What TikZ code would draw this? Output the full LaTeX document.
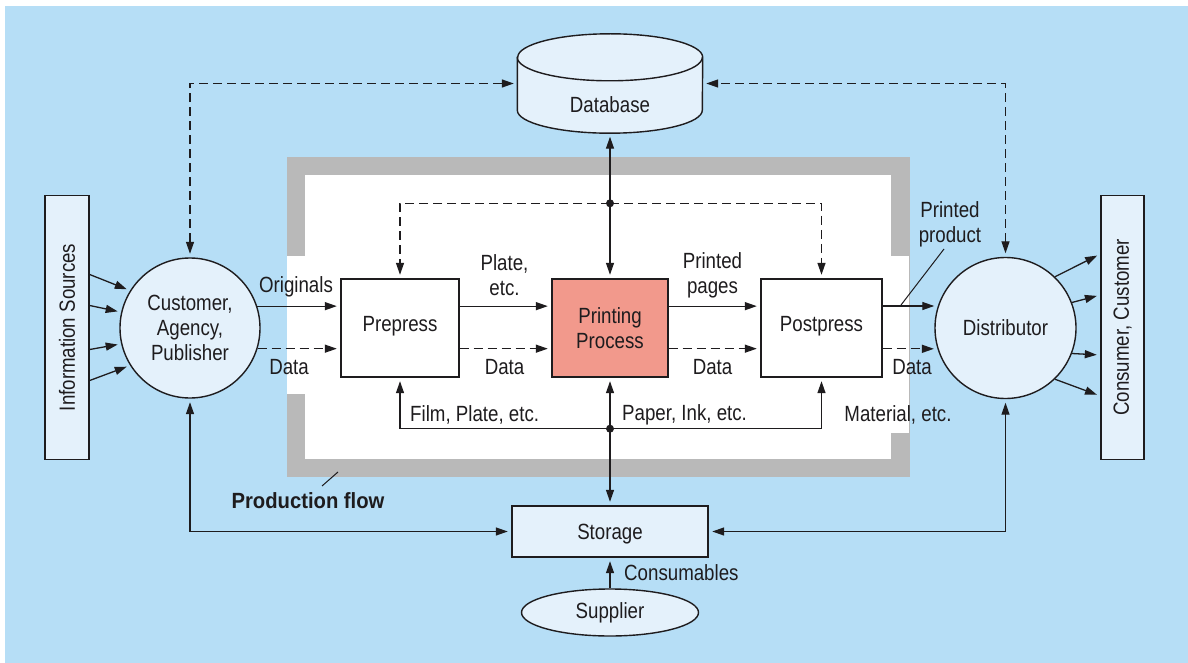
\documentclass[tikz,border=0pt]{standalone}
\usepackage{fontspec}
\setmainfont{Liberation Sans}[FakeStretch=0.85, BoldFeatures={FakeStretch=0.92}]
\usetikzlibrary{arrows.meta,calc,shapes.geometric}
\definecolor{bgblue}{RGB}{182,222,246}
\definecolor{nodefill}{RGB}{228,241,251}
\definecolor{framegrey}{RGB}{185,185,185}
\definecolor{pressred}{RGB}{242,153,140}
\definecolor{ink}{RGB}{30,28,30}
\begin{document}
\begin{tikzpicture}[x=1pt,y=-1pt,
  every node/.style={font=\fontsize{22}{25}\selectfont, inner sep=0pt, text=ink},
  >={Triangle[length=12pt,width=8pt]},
  frame/.style={draw=ink, line width=1.4pt},
  flowbox/.style={frame, rectangle, minimum width=118pt, minimum height=98pt, fill=white},
  ln/.style={draw=ink, line width=1.3pt},
  conn/.style={ln, ->, shorten >=3.5pt},
  both/.style={ln, <->, shorten >=3.5pt, shorten <=3.5pt},
  dashline/.style={dash pattern=on 9pt off 5pt},
  junction/.style={fill=ink},
  lbl/.style={align=center}
]
\useasboundingbox (0,0) rectangle (1188,663);
% background panel
\fill[white] (0,0) rectangle (1188,663);
\fill[bgblue] (5,6) rectangle (1188,663);

% production area: grey frame with openings left and right
\fill[framegrey] (287,157) rectangle (910,477);
\fill[white] (305,175) rectangle (891,459);
\fill[white] (287,256) rectangle (305,394);
\fill[white] (891,256) rectangle (909,433);

% outer parties
\node[frame, rectangle, minimum width=44pt, minimum height=264pt, fill=nodefill] (info) at (67,327.5) {};
\node[rotate=90] (infolbl) at (info.center) {Information Sources};
\node[frame, rectangle, minimum width=43pt, minimum height=264pt, fill=nodefill] (cons) at (1122.5,327.5) {};
\node[rotate=90] (conslbl) at (cons.center) {Consumer, Customer};

\node[frame, circle, minimum size=140pt, fill=nodefill, lbl] (cust) at (190,328) {Customer,\\Agency,\\Publisher};
\node[frame, circle, minimum size=141pt, fill=nodefill] (dist) at (1005.5,328) {Distributor};

% production steps
\node[flowbox] (prepress) at (400,328) {};
\node (prepresslbl) at ($(prepress.center)+(0,-2)$) {Prepress};
\node[flowbox, fill=pressred, minimum width=116pt, lbl] (printing) at (610,328) {Printing\\Process};
\node[flowbox, minimum width=121pt] (postpress) at (821.5,328) {};
\node (postpresslbl) at ($(postpress.center)+(0,-2)$) {Postpress};

% database cylinder
\node[minimum width=185pt, minimum height=99pt] (db) at (610,83.5) {};
\filldraw[frame, fill=nodefill]
  ($(db.north west)+(0,23.5)$) -- ($(db.south west)+(0,-23)$)
  arc[start angle=180, end angle=360, x radius=92.5pt, y radius=23pt]
  -- ($(db.north east)+(0,23.5)$)
  arc[start angle=0, end angle=180, x radius=92.5pt, y radius=23.5pt] -- cycle;
\draw[frame] ($(db.north west)+(0,23.5)$)
  arc[start angle=180, end angle=360, x radius=92.5pt, y radius=23.5pt];
\node (dblbl) at ($(db.center)+(0,21)$) {Database};

% storage and supplier
\node[frame, rectangle, minimum width=196pt, minimum height=51pt, fill=nodefill] (storage) at (610,531.5) {};
\node (storagelbl) at ($(storage.center)+(0,3)$) {Storage};
\node[frame, ellipse, minimum width=177pt, minimum height=47pt, fill=nodefill] (supplier) at (610,612.5) {Supplier};

% information sources into customer
\draw[conn] ($(info.east)+(0,-53)$) -- (cust.148);
\draw[conn] ($(info.east)+(0,-22)$) -- (cust.167);
\draw[conn] ($(info.east)+(0,22)$) -- (cust.193);
\draw[conn] ($(info.east)+(0,53)$) -- (cust.212);

% distributor out to consumers
\draw[conn] (dist.46) -- ($(cons.west)+(0,-73.5)$);
\draw[conn] (dist.21) -- ($(cons.west)+(0,-32.5)$);
\draw[conn] (dist.-21) -- ($(cons.west)+(0,27.5)$);
\draw[conn] (dist.-46) -- ($(cons.west)+(0,68.5)$);

% main material flow
\draw[conn] (cust.18) -- (cust.18 -| prepress.west);
\draw[conn] (prepress.east |- cust.18) -- (printing.west |- cust.18);
\draw[conn] (printing.east |- cust.18) -- (postpress.west |- cust.18);
\draw[conn] (postpress.east |- dist.162) -- (dist.162);

% data flow
\draw[conn, dashline] (cust.-17) -- (cust.-17 -| prepress.west);
\draw[conn, dashline] (prepress.east |- cust.-17) -- (printing.west |- cust.-17);
\draw[conn, dashline] (printing.east |- cust.-17) -- (postpress.west |- cust.-17);
\draw[conn, dashline] (postpress.east |- dist.197) -- (dist.197);

% database links
\draw[both, dashline] (cust.north) |- (db.west);
\draw[both, dashline] (dist.north) |- (db.east);
\draw[both] (db.south) -- (printing.north);
\coordinate (topjunc) at ($(printing.north)+(0,-75)$);
\draw[conn, dashline] (topjunc) -| (prepress.north);
\draw[conn, dashline] (topjunc) -| (postpress.north);
\fill[junction] (topjunc) circle (4pt);

% storage links
\draw[both] (storage.north) -- (printing.south);
\coordinate (botjunc) at ($(printing.south)+(0,51)$);
\draw[conn] (botjunc) -| (prepress.south);
\draw[conn] (botjunc) -| (postpress.south);
\fill[junction] (botjunc) circle (4pt);
\draw[both] (cust.south) |- (storage.west);
\draw[both] (dist.south) |- (storage.east);
\draw[conn] (supplier.north) -- (storage.south);

% labels
\node (lorig) at (296,287) {Originals};
\node (ldata1) at (289,367) {Data};
\node[lbl] (lplate) at (504.5,275.5) {Plate,\\etc.};
\node (ldata2) at (504.5,367) {Data};
\node[lbl] (lpages) at (712.5,275.5) {Printed\\pages};
\node (ldata3) at (712.5,367) {Data};
\node[lbl] (lproduct) at (950,224.5) {Printed\\product};
\node (ldata4) at (912,367) {Data};
\node[anchor=west] (lfilm) at (410,415) {Film, Plate, etc.};
\node[anchor=west] (lpaper) at (622,415) {Paper, Ink, etc.};
\node (lmaterial) at (898,415) {Material, etc.};
\node[anchor=west] (lconsum) at (624,573) {Consumables};
\node (lflow) at (308,501) {\bfseries Production flow};

% leader lines
\draw[ln, line width=1pt] (944,249) -- (901,305);
\draw[ln, line width=1pt] (322,486) -- (338,472);
\end{tikzpicture}
\end{document}
